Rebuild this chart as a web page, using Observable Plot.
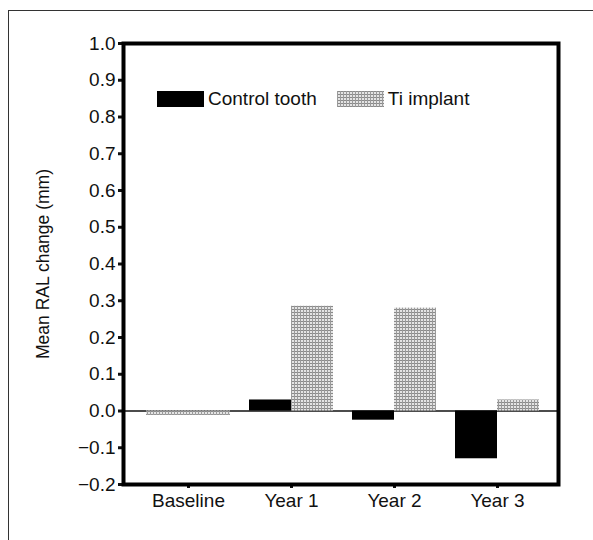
<!DOCTYPE html>
<html>
<head>
<meta charset="utf-8">
<script src="https://cdn.jsdelivr.net/npm/d3@7"></script>
<script src="https://cdn.jsdelivr.net/npm/@observablehq/plot@0.6"></script>
<style>
  html, body { margin: 0; padding: 0; background: #fff; }
  body { width: 593px; height: 540px; position: relative; overflow: hidden; font-family: "Liberation Sans", Arial, sans-serif; }
  #border { position: absolute; left: 8px; top: 10px; width: 640px; height: 640px; border: 1px solid #333; box-sizing: border-box; }
  #chart { position: absolute; left: 0; top: 0; }
  #legend { position: absolute; left: 157px; top: 88px; display: flex; align-items: center; font-size: 19px; color: #111; }
  .sw { width: 47px; height: 16px; margin-right: 4px; display: block; }
  .item { display: flex; align-items: center; margin-right: 20px; }
</style>
</head>
<body>
<div id="border"></div>
<svg width="0" height="0" style="position:absolute">
  <defs>
    <pattern id="tiPattern" width="3" height="3" patternUnits="userSpaceOnUse">
      <rect width="3" height="3" fill="#e4e4e4"></rect>
      <rect width="3" height="1" fill="#8a8a8a"></rect>
      <rect width="1" height="3" fill="#9a9a9a"></rect>
    </pattern>
  </defs>
</svg>
<div id="chart"></div>
<div id="legend"></div>
<script>
const categories = ["Baseline", "Year 1", "Year 2", "Year 3"];
const controlTooth = [0, 0.03, -0.025, -0.13];
const tiImplant = [-0.012, 0.285, 0.28, 0.03];
const yTicks = [-0.2, -0.1, 0.0, 0.1, 0.2, 0.3, 0.4, 0.5, 0.6, 0.7, 0.8, 0.9, 1.0];
const seriesNames = ["Control tooth", "Ti implant"];
const yLabel = "Mean RAL change (mm)";

const controlData = categories.map((c, i) => ({cat: c, v: controlTooth[i]})).filter(d => d.v !== 0);
const tiData = categories.map((c, i) => ({cat: c, v: tiImplant[i]}));
const tiFull = tiData.filter(d => d.cat === "Baseline");
const tiHalf = tiData.filter(d => d.cat !== "Baseline");

const FILL_TI = "url(#tiPattern)";
const half = 42;

const plot = Plot.plot({
  width: 593,
  height: 540,
  marginLeft: 123,
  marginRight: 35,
  marginTop: 43,
  marginBottom: 56,
  style: {fontFamily: "Liberation Sans, Arial, sans-serif", fontSize: "19px", color: "#111", background: "transparent"},
  x: {domain: categories, paddingInner: 0.18, paddingOuter: 0.2, align: 0.55},
  y: {domain: [-0.2, 1.0]},
  marks: [
    Plot.ruleY([0], {stroke: "#111", strokeWidth: 1.3}),
    Plot.barY(controlData, {x: "cat", y: "v", fill: "#000", insetRight: half}),
    Plot.barY(tiHalf, {x: "cat", y: "v", fill: FILL_TI, insetLeft: half}),
    Plot.barY(tiFull, {x: "cat", y: "v", fill: FILL_TI}),
    Plot.axisY({ticks: yTicks, tickFormat: d3.format(".1f"), tickSize: 5, tickPadding: 3, strokeWidth: 3, label: null, fontSize: 19}),
    Plot.axisX({tickSize: 4, tickPadding: 5, strokeWidth: 3, label: null, fontSize: 19}),
    Plot.text([yLabel], {frameAnchor: "left", rotate: -90, dx: -80, textAnchor: "middle", fontSize: 17.5, fill: "#111"}),
    Plot.frame({stroke: "#000", strokeWidth: 4})
  ]
});
document.getElementById("chart").appendChild(plot);

const legend = document.getElementById("legend");
seriesNames.forEach((name, i) => {
  const item = document.createElement("div");
  item.className = "item";
  const sw = document.createElementNS("http://www.w3.org/2000/svg", "svg");
  sw.setAttribute("class", "sw");
  sw.setAttribute("width", "47"); sw.setAttribute("height", "16");
  const r = document.createElementNS("http://www.w3.org/2000/svg", "rect");
  r.setAttribute("width", "47"); r.setAttribute("height", "16");
  r.setAttribute("fill", i === 0 ? "#000" : FILL_TI);
  sw.appendChild(r);
  item.appendChild(sw);
  const t = document.createElement("span");
  t.textContent = name;
  item.appendChild(t);
  legend.appendChild(item);
});
</script>
</body>
</html>
